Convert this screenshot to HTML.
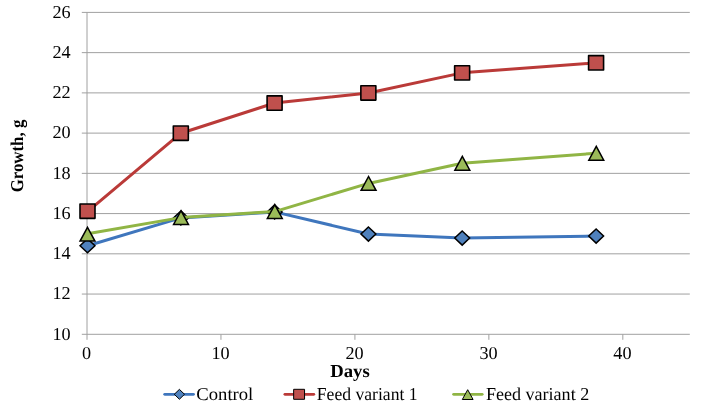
<!DOCTYPE html>
<html><head><meta charset="utf-8"><title>Chart</title>
<style>
html,body{margin:0;padding:0;background:#fff;}
body{width:702px;height:416px;overflow:hidden;font-family:"Liberation Serif",serif;}
svg{display:block}
text{font-family:"Liberation Serif",serif;fill:#000;}
</style></head><body>
<svg width="702" height="416" viewBox="0 0 702 416">
<rect width="702" height="416" fill="#fff"/>
<g stroke="#a0a0a0" stroke-width="1" fill="none">
<line x1="81.80" y1="334.30" x2="689.80" y2="334.30"/>
<line x1="81.80" y1="294.06" x2="689.80" y2="294.06"/>
<line x1="81.80" y1="253.82" x2="689.80" y2="253.82"/>
<line x1="81.80" y1="213.59" x2="689.80" y2="213.59"/>
<line x1="81.80" y1="173.35" x2="689.80" y2="173.35"/>
<line x1="81.80" y1="133.11" x2="689.80" y2="133.11"/>
<line x1="81.80" y1="92.88" x2="689.80" y2="92.88"/>
<line x1="81.80" y1="52.64" x2="689.80" y2="52.64"/>
<line x1="81.80" y1="12.40" x2="689.80" y2="12.40"/>
<line x1="87.00" y1="12.40" x2="87.00" y2="339.80"/>
<line x1="220.96" y1="334.30" x2="220.96" y2="339.80"/>
<line x1="354.91" y1="334.30" x2="354.91" y2="339.80"/>
<line x1="488.87" y1="334.30" x2="488.87" y2="339.80"/>
<line x1="622.82" y1="334.30" x2="622.82" y2="339.80"/>
</g>
<g opacity="0.999" text-rendering="geometricPrecision">
<text transform="translate(70.60,339.60) scale(1.0,1)" font-size="18.2" text-anchor="end">10</text>
<text transform="translate(70.60,299.36) scale(1.0,1)" font-size="18.2" text-anchor="end">12</text>
<text transform="translate(70.60,259.12) scale(1.0,1)" font-size="18.2" text-anchor="end">14</text>
<text transform="translate(70.60,218.89) scale(1.0,1)" font-size="18.2" text-anchor="end">16</text>
<text transform="translate(70.60,178.65) scale(1.0,1)" font-size="18.2" text-anchor="end">18</text>
<text transform="translate(70.60,138.41) scale(1.0,1)" font-size="18.2" text-anchor="end">20</text>
<text transform="translate(70.60,98.17) scale(1.0,1)" font-size="18.2" text-anchor="end">22</text>
<text transform="translate(70.60,57.94) scale(1.0,1)" font-size="18.2" text-anchor="end">24</text>
<text transform="translate(70.60,17.70) scale(1.0,1)" font-size="18.2" text-anchor="end">26</text>
<text transform="translate(86.60,359.30) scale(1.0,1)" font-size="18.2" text-anchor="middle">0</text>
<text transform="translate(220.56,359.30) scale(1.0,1)" font-size="18.2" text-anchor="middle">10</text>
<text transform="translate(354.51,359.30) scale(1.0,1)" font-size="18.2" text-anchor="middle">20</text>
<text transform="translate(488.47,359.30) scale(1.0,1)" font-size="18.2" text-anchor="middle">30</text>
<text transform="translate(622.42,359.30) scale(1.0,1)" font-size="18.2" text-anchor="middle">40</text>
<text transform="translate(350.00,376.70) scale(1.029,1)" font-size="18.2" text-anchor="middle" font-weight="bold">Days</text>
<text transform="translate(23.00,156.00) rotate(-90) scale(0.925,1)" font-size="18.2" text-anchor="middle" font-weight="bold">Growth, g</text>
<text transform="translate(196.30,400.00) scale(1.025,1)" font-size="18.2" text-anchor="start">Control</text>
<text transform="translate(316.80,400.00) scale(0.969,1)" font-size="18.2" text-anchor="start">Feed variant 1</text>
<text transform="translate(485.90,399.90) scale(0.993,1)" font-size="18.2" text-anchor="start">Feed variant 2</text>
</g>
<polyline points="87.50,245.78 180.87,217.91 274.64,211.88 368.41,234.01 462.18,238.03 596.13,236.02" fill="none" stroke="#3F76BD" stroke-width="3.0" stroke-linejoin="round" stroke-linecap="round"/>
<path d="M87.50,238.63 L94.95,245.68 L87.50,252.73 L80.05,245.68 Z" fill="#4F81BD" stroke="#000" stroke-width="1.5" stroke-linejoin="miter"/>
<path d="M180.87,210.91 L188.32,217.96 L180.87,225.01 L173.42,217.96 Z" fill="#4F81BD" stroke="#000" stroke-width="1.5" stroke-linejoin="miter"/>
<path d="M274.64,204.88 L282.09,211.93 L274.64,218.98 L267.19,211.93 Z" fill="#4F81BD" stroke="#000" stroke-width="1.5" stroke-linejoin="miter"/>
<path d="M368.41,227.01 L375.86,234.06 L368.41,241.11 L360.96,234.06 Z" fill="#4F81BD" stroke="#000" stroke-width="1.5" stroke-linejoin="miter"/>
<path d="M462.18,231.03 L469.63,238.08 L462.18,245.13 L454.73,238.08 Z" fill="#4F81BD" stroke="#000" stroke-width="1.5" stroke-linejoin="miter"/>
<path d="M596.13,229.02 L603.58,236.07 L596.13,243.12 L588.68,236.07 Z" fill="#4F81BD" stroke="#000" stroke-width="1.5" stroke-linejoin="miter"/>
<polyline points="87.50,211.58 180.87,133.21 274.64,103.03 368.41,92.97 462.18,72.86 596.13,62.80" fill="none" stroke="#BA3A38" stroke-width="3.0" stroke-linejoin="round" stroke-linecap="round"/>
<rect x="80.00" y="204.03" width="15.00" height="14.30" fill="#C0504D" stroke="#000" stroke-width="1.6" stroke-linejoin="round"/>
<rect x="173.32" y="126.06" width="15.00" height="14.30" fill="#C0504D" stroke="#000" stroke-width="1.6" stroke-linejoin="round"/>
<rect x="267.09" y="95.88" width="15.00" height="14.30" fill="#C0504D" stroke="#000" stroke-width="1.6" stroke-linejoin="round"/>
<rect x="360.86" y="85.82" width="15.00" height="14.30" fill="#C0504D" stroke="#000" stroke-width="1.6" stroke-linejoin="round"/>
<rect x="454.63" y="65.71" width="15.00" height="14.30" fill="#C0504D" stroke="#000" stroke-width="1.6" stroke-linejoin="round"/>
<rect x="588.58" y="55.65" width="15.00" height="14.30" fill="#C0504D" stroke="#000" stroke-width="1.6" stroke-linejoin="round"/>
<polyline points="87.50,233.71 180.87,217.61 274.64,211.58 368.41,183.41 462.18,163.29 596.13,153.23" fill="none" stroke="#90B545" stroke-width="3.0" stroke-linejoin="round" stroke-linecap="round"/>
<path d="M87.50,227.31 L94.95,241.11 L80.05,241.11 Z" fill="#9BBB59" stroke="#000" stroke-width="1.5" stroke-linejoin="miter"/>
<path d="M181.02,210.71 L188.47,224.51 L173.57,224.51 Z" fill="#9BBB59" stroke="#000" stroke-width="1.5" stroke-linejoin="miter"/>
<path d="M274.79,204.68 L282.24,218.48 L267.34,218.48 Z" fill="#9BBB59" stroke="#000" stroke-width="1.5" stroke-linejoin="miter"/>
<path d="M368.56,176.51 L376.01,190.31 L361.11,190.31 Z" fill="#9BBB59" stroke="#000" stroke-width="1.5" stroke-linejoin="miter"/>
<path d="M462.33,156.39 L469.78,170.19 L454.88,170.19 Z" fill="#9BBB59" stroke="#000" stroke-width="1.5" stroke-linejoin="miter"/>
<path d="M596.28,146.33 L603.73,160.13 L588.83,160.13 Z" fill="#9BBB59" stroke="#000" stroke-width="1.5" stroke-linejoin="miter"/>
<line x1="164.7" y1="394.3" x2="193.5" y2="394.3" stroke="#3F76BD" stroke-width="2.8" stroke-linecap="round"/>
<path d="M179.40,389.35 L184.50,394.30 L179.40,399.25 L174.30,394.30 Z" fill="#4F81BD" stroke="#000" stroke-width="1" stroke-linejoin="miter"/>
<line x1="284.9" y1="394.3" x2="313.8" y2="394.3" stroke="#BA3A38" stroke-width="2.8" stroke-linecap="round"/>
<rect x="293.65" y="389.30" width="10.90" height="10.00" fill="#C0504D" stroke="#000" stroke-width="1" stroke-linejoin="round"/>
<line x1="453.6" y1="394.3" x2="482.2" y2="394.3" stroke="#90B545" stroke-width="2.8" stroke-linecap="round"/>
<path d="M467.70,389.70 L473.10,399.50 L462.30,399.50 Z" fill="#9BBB59" stroke="#000" stroke-width="1" stroke-linejoin="miter"/>
</svg></body></html>
